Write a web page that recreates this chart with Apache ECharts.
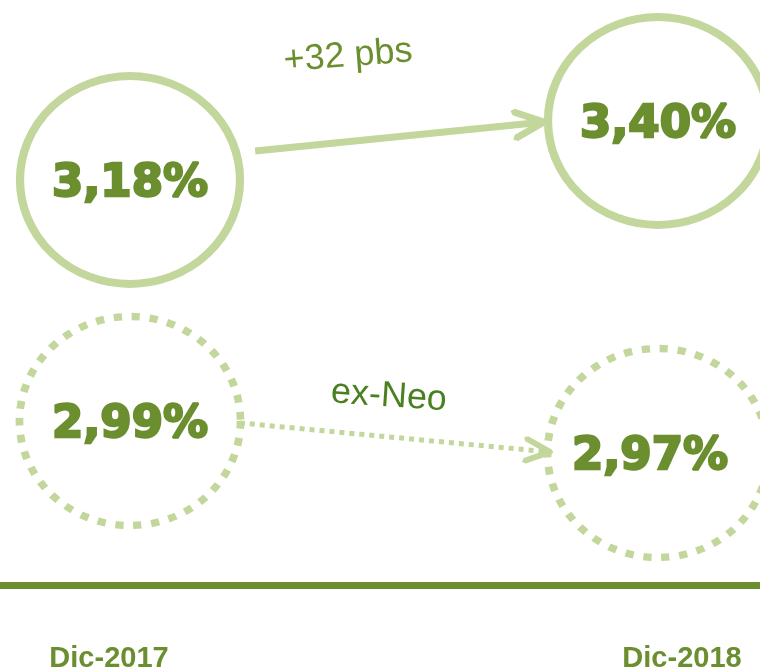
<!DOCTYPE html>
<html>
<head>
<meta charset="utf-8">
<title>Dic-2017 / Dic-2018</title>
<script src="https://cdn.jsdelivr.net/npm/echarts@6/dist/echarts.min.js"></script>
<style>
  html, body { margin: 0; padding: 0; background: #fff; }
  #main { width: 760px; height: 670px; }
</style>
</head>
<body>
<div id="main"></div>
<script>
// periods on the timeline
var periods = ['Dic-2017', 'Dic-2018'];
// reported rate (solid circles)
var rateReported = [3.18, 3.40];
// rate ex-Neo (dotted circles)
var rateExNeo = [2.99, 2.97];
// notes over each arrow
var notes = ['+32 pbs', 'ex-Neo'];
// arrows as [period, rate] from start to tip
var arrowReported = [[0.237, 3.288], [0.784, 3.396]];
var arrowExNeo = [[0.208, 2.9888], [0.796, 2.9706]];

var dark = '#6b8e2f';
var light = '#c3d69b';
var noteGreen = '#4a801f';

// open chevron, tip in the middle of its box so it sits on the line end
var chevron = 'path://M0,-32.2 L0,-32.2 M0,-3.5 L3.19,-1.43 L16.19,27.57 L14.43,32.19 L9.81,30.43 L0,8.56 ' +
  'L-9.81,30.43 L-14.43,32.19 L-16.19,27.57 L-3.19,-1.43 Z';

function pct(p) {
  return p.value[1].toFixed(2).replace('.', ',') + '%';
}
function mid(a) {
  return [(a[0][0] + a[1][0]) / 2, (a[0][1] + a[1][1]) / 2];
}

var bigLabel = {
  show: true,
  position: 'inside',
  formatter: pct,
  color: dark,
  fontFamily: 'DejaVu Sans',
  fontWeight: 'bold',
  fontSize: 45,
  textBorderColor: dark,
  textBorderWidth: 2.4,
  offset: [0, 4]
};

var hidden = { show: false };

var myChart = echarts.init(document.getElementById('main'));
var option = {
  animation: false,
  grid: [
    { left: 130, right: 102, top: 121, bottom: 490, outerBoundsMode: 'none' },
    { left: 130, right: 102, top: 421, bottom: 217, outerBoundsMode: 'none' },
    { left: -177.5, right: -208.5, top: 500, bottom: 84.5, outerBoundsMode: 'none', containLabel: false }
  ],
  xAxis: [
    { gridIndex: 0, type: 'value', min: 0, max: 1, show: false },
    { gridIndex: 1, type: 'value', min: 0, max: 1, show: false },
    {
      gridIndex: 2,
      type: 'category',
      data: periods,
      boundaryGap: true,
      axisLine: { show: true, lineStyle: { color: dark, width: 7 } },
      axisTick: hidden,
      splitLine: hidden,
      axisLabel: {
        color: dark,
        fontFamily: 'Liberation Sans',
        fontWeight: 'bold',
        fontSize: 29,
        margin: 59
      }
    }
  ],
  yAxis: [
    { gridIndex: 0, type: 'value', min: 3.18, max: 3.40, show: false },
    { gridIndex: 1, type: 'value', min: 2.97, max: 2.99, show: false },
    { gridIndex: 2, type: 'value', min: 0, max: 1, show: false }
  ],
  series: [
    {
      type: 'lines',
      coordinateSystem: 'cartesian2d',
      xAxisIndex: 0,
      yAxisIndex: 0,
      clip: false,
      silent: true,
      symbol: ['none', chevron],
      symbolSize: [0, [32.4, 64.4]],
      lineStyle: { color: light, width: 7, opacity: 1, curveness: 0 },
      data: [{ coords: arrowReported }]
    },
    {
      type: 'lines',
      coordinateSystem: 'cartesian2d',
      xAxisIndex: 1,
      yAxisIndex: 1,
      clip: false,
      silent: true,
      symbol: ['none', chevron],
      symbolSize: [0, [27.5, 54.7]],
      lineStyle: { color: light, width: 5, type: [5, 5], opacity: 1, curveness: 0 },
      data: [{ coords: arrowExNeo }]
    },
    {
      type: 'scatter',
      xAxisIndex: 0,
      yAxisIndex: 0,
      clip: false,
      silent: true,
      symbol: 'circle',
      symbolSize: [220, 208],
      itemStyle: { color: 'rgba(0,0,0,0)', borderColor: light, borderWidth: 8, opacity: 1 },
      label: bigLabel,
      data: rateReported.map(function (v, i) { return [i, v]; })
    },
    {
      type: 'scatter',
      xAxisIndex: 1,
      yAxisIndex: 1,
      clip: false,
      silent: true,
      symbol: 'circle',
      symbolSize: [221, 209],
      itemStyle: { color: 'rgba(0,0,0,0)', borderColor: light, borderWidth: 7.5, borderType: [8, 9.5], opacity: 1 },
      label: bigLabel,
      data: rateExNeo.map(function (v, i) {
        return { value: [i, v], label: { offset: i === 1 ? [-8, 4] : [0, 4] } };
      })
    },
    {
      type: 'scatter',
      xAxisIndex: 0,
      yAxisIndex: 0,
      clip: false,
      silent: true,
      symbolSize: 0,
      itemStyle: { color: 'rgba(0,0,0,0)', opacity: 1 },
      label: {
        show: true,
        position: 'inside',
        formatter: notes[0],
        color: dark,
        fontFamily: 'Liberation Sans',
        fontSize: 36,
        rotate: 4.5,
        offset: [-45, -84]
      },
      data: [mid(arrowReported)]
    },
    {
      type: 'scatter',
      xAxisIndex: 1,
      yAxisIndex: 1,
      clip: false,
      silent: true,
      symbolSize: 0,
      itemStyle: { color: 'rgba(0,0,0,0)', opacity: 1 },
      label: {
        show: true,
        position: 'inside',
        formatter: notes[1],
        color: noteGreen,
        fontFamily: 'Liberation Sans',
        fontSize: 36,
        rotate: -4,
        offset: [-9, -40.5]
      },
      data: [mid(arrowExNeo)]
    }
  ]
};
myChart.setOption(option);
</script>
</body>
</html>
